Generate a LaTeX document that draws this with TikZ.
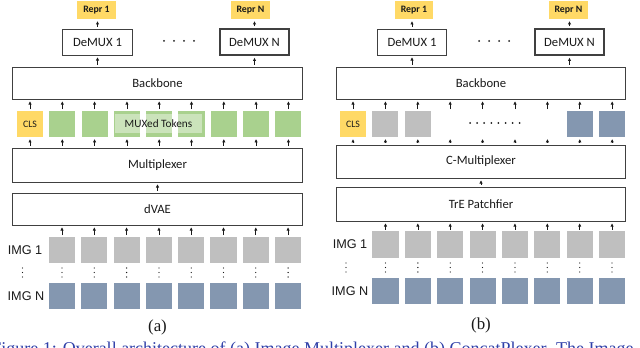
\documentclass[tikz,border=0pt]{standalone}
\usepackage{fontspec}
\newfontfamily\boxfont{Carlito}
\newfontfamily\imgfont{Liberation Sans}
\newfontfamily\capfont{Liberation Serif}
\usepackage{tikz}
\usetikzlibrary{arrows.meta,positioning}
\definecolor{gold}{HTML}{FFD966}
\definecolor{leaf}{HTML}{A9D18E}
\definecolor{stone}{HTML}{BFBFBF}
\definecolor{slate}{HTML}{8497B0}
\definecolor{edge}{HTML}{404040}
\definecolor{ink}{HTML}{1A1A1A}
\definecolor{capblue}{HTML}{2F3FA8}
\tikzset{
  block/.style={draw=edge,line width=0.7pt,fill=white,minimum width=7.225cm,minimum height=0.8cm,inner sep=0pt,text=ink,font=\boxfont\fontsize{9}{10}\selectfont},
  demux/.style={draw=edge,line width=0.7pt,fill=white,minimum width=1.725cm,minimum height=0.65cm,inner sep=0pt,text=ink,font=\boxfont\fontsize{9}{10}\selectfont},
  repr/.style={fill=gold,minimum width=0.95cm,minimum height=0.45cm,inner sep=1pt,text=ink,font=\boxfont\bfseries\fontsize{7}{8}\selectfont},
  tok/.style={fill=#1,minimum size=0.65cm,inner sep=0pt,text=ink,font=\boxfont\fontsize{7}{8}\selectfont},
  slot/.style={minimum size=0.65cm,inner sep=0pt},
  veil/.style={fill=white,fill opacity=0.4,text opacity=1,minimum width=2.175cm,minimum height=0.475cm,inner sep=0pt,text=ink,font=\boxfont\fontsize{8}{9}\selectfont},
  imglbl/.style={font=\imgfont\fontsize{9}{10}\selectfont,text=ink},
  sublbl/.style={font=\capfont\fontsize{12}{14}\selectfont,text=ink},
  arr/.style={-{Latex[length=2.4pt,width=2.4pt]},line width=0.5pt,shorten <=1.2pt,shorten >=1.2pt,color=ink},
}
\newcommand{\vdotsat}[2]{\foreach \d in {-4.5,0,4.5} \fill[ink] (#1,#2+\d) circle (0.65);}

\begin{document}
\begin{tikzpicture}[x=0.025cm,y=-0.025cm]
  \useasboundingbox (0,0) rectangle (640,348);
  \clip (0,0) rectangle (640,348);

  % (a) image multiplexer
  \node[repr] (reprA) at (96.5,10) {Repr 1};
  \node[repr] (reprAN) at (250.5,10) {Repr N};
  \node[demux] (demA) at (97.5,42) {DeMUX 1};
  \node[demux,line width=1.2pt] (demAN) at (254.5,42) {DeMUX N};
  \foreach \i in {0,...,3}
    \fill[ink] ({164+10*\i},41) circle (1);
  \node[block] (bbA) at (157.5,83) {Backbone};
  \node[tok=gold] (ta0) at (30,124) {CLS};
  \foreach \i in {1,...,8}
    \node[tok=leaf] (ta\i) at ({30+32.3*\i},124) {};
  \node[veil] (muxtok) at (158.5,123.5) {MUXed Tokens};
  \node[block,minimum height=0.85cm] (muxA) at (157.5,165) {Multiplexer};
  \node[block] (vae) at (157.5,209) {dVAE};
  \node[imglbl] (imgA) at (25,250) {IMG 1};
  \node[imglbl] (imgAN) at (26,296) {IMG N};
  \vdotsat{22.5}{272.5}
  \foreach \i in {0,...,7} {
    \node[tok=stone] (ia\i) at ({62+32.3*\i},250) {};
    \node[tok=slate] (ian\i) at ({62+32.3*\i},296) {};
    \vdotsat{62+32.3*\i}{272.5}
    \draw[arr] (ia\i.north) -- (ia\i.north |- vae.south);
  }
  \draw[arr] (vae.north) -- (muxA.south);
  \foreach \i in {0,...,8} {
    \draw[arr] (ta\i.south |- muxA.north) -- (ta\i.south);
    \draw[arr] (ta\i.north) -- (ta\i.north |- bbA.south);
  }
  \draw[arr] (demA.south |- bbA.north) -- (demA.south);
  \draw[arr] (demAN.south |- bbA.north) -- (demAN.south);
  \draw[arr] (demA.north) -- (demA.north |- reprA.south);
  \draw[arr] (demAN.north) -- (demAN.north |- reprAN.south);
  \node[sublbl] (capA) at (157.5,327) {(a)};

  % (b) concatplexer
  \node[repr] (reprB) at (414,10) {Repr 1};
  \node[repr] (reprBN) at (568.5,10) {Repr N};
  \node[demux] (demB) at (412,42) {DeMUX 1};
  \node[demux,line width=1.2pt] (demBN) at (569.5,42) {DeMUX N};
  \foreach \i in {0,...,3}
    \fill[ink] ({479+10*\i},41) circle (1);
  \node[block] (bbB) at (481,83) {Backbone};
  \node[tok=gold] (tb0) at (353,124) {CLS};
  \foreach \i/\c in {1/stone,2/stone,7/slate,8/slate}
    \node[tok=\c] (tb\i) at ({353+32.4*\i},124) {};
  \foreach \i in {3,...,6}
    \node[slot] (tb\i) at ({353+32.4*\i},124) {};
  \foreach \i in {0,...,7}
    \fill[ink] ({470+7.1*\i},123) circle (1);
  \node[block,minimum height=0.825cm] (cmux) at (481,161.5) {C-Multiplexer};
  \node[block,minimum height=0.85cm] (tre) at (481,204) {TrE Patchfier};
  \node[imglbl] (imgB) at (350,244.5) {IMG 1};
  \node[imglbl] (imgBN) at (350,291) {IMG N};
  \vdotsat{346}{267.5}
  \foreach \i in {0,...,7} {
    \node[tok=stone] (ib\i) at ({385.5+32.36*\i},244.5) {};
    \node[tok=slate] (ibn\i) at ({385.5+32.36*\i},291) {};
    \vdotsat{385.5+32.36*\i}{267.5}
    \draw[arr] (ib\i.north) -- (ib\i.north |- tre.south);
  }
  \draw[arr] (tre.north) -- (cmux.south);
  \foreach \i in {0,...,8} {
    \draw[arr] (tb\i.south |- cmux.north) -- (tb\i.south);
    \draw[arr] (tb\i.north) -- (tb\i.north |- bbB.south);
  }
  \draw[arr] (demB.south |- bbB.north) -- (demB.south);
  \draw[arr] (demBN.south |- bbB.north) -- (demBN.south);
  \draw[arr] (demB.north) -- (demB.north |- reprB.south);
  \draw[arr] (demBN.north) -- (demBN.north |- reprBN.south);
  \node[sublbl] (capB) at (481,325) {(b)};

  % cut-off caption
  \node[anchor=base west,inner sep=0pt,text=capblue,font=\capfont\fontsize{12.8}{15}\selectfont] (caption) at (-9,354.5) {Figure 1: Overall architecture of (a) Image Multiplexer and (b) ConcatPlexer. The Image};
\end{tikzpicture}
\end{document}
